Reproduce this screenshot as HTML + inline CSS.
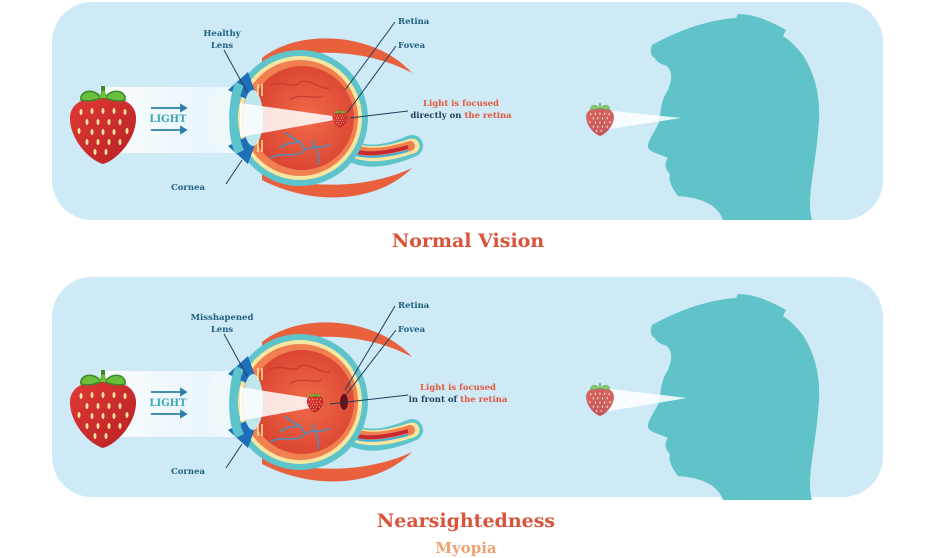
<!DOCTYPE html>
<html><head><meta charset="utf-8"><style>
html,body{margin:0;padding:0;background:#fff;}
svg{display:block;}
text{font-family:"DejaVu Serif","Liberation Serif",serif;font-weight:bold;}
</style></head><body>
<svg width="936" height="558" viewBox="0 0 936 558" xmlns="http://www.w3.org/2000/svg">
<defs>
<radialGradient id="inner" cx="0.55" cy="0.5" r="0.6">
<stop offset="0" stop-color="#f06a48"/><stop offset="1" stop-color="#d8402f"/></radialGradient>
<linearGradient id="berry" x1="0" y1="0" x2="1" y2="1">
<stop offset="0" stop-color="#e03a36"/><stop offset="1" stop-color="#b82024"/></linearGradient>
<linearGradient id="beam" x1="0" y1="0" x2="1" y2="0">
<stop offset="0" stop-color="#fff" stop-opacity="0.9"/><stop offset="1" stop-color="#fff" stop-opacity="0.5"/></linearGradient>
<g id="berryShape">
<path d="M0,-28 C20,-30 34,-22 33,-6 C32,14 14,34 0,38 C-14,34 -32,14 -33,-6 C-34,-22 -20,-30 0,-28 Z" fill="url(#berry)"/>
<g fill="#f8e6a0">
<ellipse cx="-22" cy="-14" rx="1.5" ry="3"/><ellipse cx="-11" cy="-15" rx="1.5" ry="3"/><ellipse cx="0" cy="-15" rx="1.5" ry="3"/><ellipse cx="11" cy="-15" rx="1.5" ry="3"/><ellipse cx="22" cy="-14" rx="1.5" ry="3"/>
<ellipse cx="-16" cy="-4" rx="1.5" ry="3"/><ellipse cx="-5" cy="-4" rx="1.5" ry="3"/><ellipse cx="6" cy="-4" rx="1.5" ry="3"/><ellipse cx="17" cy="-4" rx="1.5" ry="3"/>
<ellipse cx="-24" cy="5" rx="1.5" ry="3"/><ellipse cx="-11" cy="6" rx="1.5" ry="3"/><ellipse cx="0" cy="6" rx="1.5" ry="3"/><ellipse cx="11" cy="6" rx="1.5" ry="3"/><ellipse cx="24" cy="5" rx="1.5" ry="3"/>
<ellipse cx="-16" cy="16" rx="1.5" ry="3"/><ellipse cx="-5" cy="16" rx="1.5" ry="3"/><ellipse cx="6" cy="16" rx="1.5" ry="3"/><ellipse cx="17" cy="16" rx="1.5" ry="3"/>
<ellipse cx="-8" cy="26" rx="1.5" ry="3"/><ellipse cx="3" cy="26" rx="1.5" ry="3"/>
</g>
<path d="M-2,-28 L-2,-40 L2,-40 L2,-28 Z" fill="#3a8a2a"/>
<path d="M-2,-28 C-10,-40 -24,-34 -22,-26 C-14,-24 -8,-26 -2,-28 Z" fill="#6cbf3c" stroke="#3a8a2a" stroke-width="1.5"/>
<path d="M2,-28 C10,-40 24,-34 22,-26 C14,-24 8,-26 2,-28 Z" fill="#6cbf3c" stroke="#3a8a2a" stroke-width="1.5"/>
<path d="M-3,-28 C-4,-38 4,-38 3,-28 Z" fill="#6cbf3c"/>
</g>
<g id="eye">
<!-- muscles -->
<path d="M262,58 C300,28 375,32 412,73 C370,50 310,46 262,64 Z" fill="#e8603c"/>
<path d="M262,180 C310,205 375,205 412,168 C370,188 310,190 262,174 Z" fill="#e8603c"/>
<!-- optic nerve -->
<path d="M340,140 Q360,168 412,146" fill="none" stroke="#5ec4cc" stroke-width="22" stroke-linecap="round"/>
<path d="M340,140 Q360,164 412,146" fill="none" stroke="#f8e6a0" stroke-width="15" stroke-linecap="round"/>
<path d="M340,140 Q360,162 410,146" fill="none" stroke="#f08050" stroke-width="10" stroke-linecap="round"/>
<path d="M345,146 Q362,160 408,147" fill="none" stroke="#c82830" stroke-width="4"/>
<path d="M345,150 Q362,163 408,151" fill="none" stroke="#3ab0e0" stroke-width="2"/>
<!-- sclera -->
<circle cx="300" cy="118" r="68" fill="#5ec4cc"/>
<circle cx="300" cy="118" r="62" fill="#f8e6a0"/>
<circle cx="300" cy="118" r="58" fill="#f08050"/>
<circle cx="302" cy="118" r="52" fill="url(#inner)"/>
<!-- vessels -->
<g fill="none" stroke="#c83a30" stroke-width="1.2">
<path d="M270,85 C285,80 295,90 300,82 C310,78 320,90 330,88"/>
<path d="M290,100 C300,92 312,100 322,96"/>
</g>
<g fill="none" stroke="#4a90c0" stroke-width="1.5">
<path d="M270,158 C285,150 295,160 305,150 C315,144 320,150 330,144"/>
<path d="M285,132 C292,140 300,138 305,150"/>
<path d="M312,140 C316,150 320,155 318,165"/>
<path d="M280,148 C290,140 298,145 300,140"/>
</g>
<!-- front -->
<path d="M228,90 L248,72 L258,100 L248,100 Z" fill="#1f6fb8"/>
<path d="M228,146 L248,164 L258,136 L248,136 Z" fill="#1f6fb8"/>
<path d="M236,82 C228,95 226,140 236,154 L244,150 C236,135 236,100 244,86 Z" fill="#5ec4cc"/>
<ellipse cx="253" cy="118" rx="10" ry="28" fill="#bfe7ee"/>
<g stroke="#f8e6a0" stroke-width="1.5"><line x1="258" y1="84" x2="258" y2="96"/><line x1="262" y1="84" x2="262" y2="96"/><line x1="258" y1="140" x2="258" y2="152"/><line x1="262" y1="140" x2="262" y2="152"/></g>
</g>
<g id="beamBase">
<rect x="100" y="87" width="130" height="66" fill="url(#beam)"/>
<path d="M222,87 C200,95 200,142 222,153 L240,153 L240,87 Z" fill="#eef8fb" opacity="0.9"/>
<path d="M238,103 L250,103 L250,136 L238,136 Z" fill="#ddd" opacity="0.6"/>
<g stroke="#2b7fa8" stroke-width="1.8" fill="#2b7fa8">
<line x1="151" y1="108" x2="184" y2="108"/><path d="M186,108 L181,105 L181,111 Z"/>
<line x1="151" y1="130" x2="184" y2="130"/><path d="M186,130 L181,127 L181,133 Z"/>
</g>
</g>
<g id="head">
<path d="M652,45 C668,36 702,20 736,18 L738,14 C755,14 772,22 786,30 L783,36 C812,55 823,92 818,132 C815,170 806,200 812,220 L723,220 C718,206 704,198 678,196 C672,188 668,180 670,174 C665,170 664,162 668,158 C660,154 647,152 648,146 C648,140 655,132 659,122 C661,110 661,100 668,90 C672,80 673,72 667,66 C660,64 655,60 655,58 C650,56 650,50 652,45 Z" fill="#5fc3c9"/>
</g>
</defs>

<!-- panels -->
<rect x="52" y="2" width="831" height="218" rx="40" fill="#cdeaf6"/>
<rect x="52" y="277" width="831" height="220" rx="40" fill="#cdeaf6"/>

<!-- TOP -->
<use href="#beamBase"/>
<text x="168" y="122" font-size="10" fill="#3aa8b8" text-anchor="middle">LIGHT</text>
<use href="#eye"/>
<path d="M240,103 L340,117 L340,119 L240,137 Z" fill="#fff" opacity="0.85"/>
<g transform="translate(340,119) scale(0.23)"><use href="#berryShape"/></g>
<g transform="translate(103,126)"><use href="#berryShape"/></g>
<g stroke="#1d3f5a" stroke-width="1"><line x1="224" y1="50" x2="247" y2="92"/><line x1="395" y1="22" x2="345" y2="90"/><line x1="396" y1="46" x2="347" y2="113"/><line x1="350" y1="118" x2="408" y2="111"/><line x1="226" y1="184" x2="242" y2="160"/></g>
<g font-size="8.5" fill="#1f5f80">
<text x="222" y="36" text-anchor="middle">Healthy</text><text x="222" y="48" text-anchor="middle">Lens</text>
<text x="398" y="24">Retina</text><text x="398" y="48">Fovea</text>
<text x="205" y="190" text-anchor="end">Cornea</text>
<text x="461" y="106" text-anchor="middle" fill="#e8563c">Light is focused</text>
<text x="461" y="118" text-anchor="middle" fill="#1d3f5a">directly on <tspan fill="#e8563c">the retina</tspan></text>
</g>
<use href="#head"/>
<path d="M604,110 L681,118 L604,130 Z" fill="#fff" opacity="0.85"/>
<g transform="translate(600,120) scale(0.42)" opacity="0.75"><use href="#berryShape"/></g>
<text x="468" y="247" font-size="19" fill="#d9543a" text-anchor="middle">Normal Vision</text>

<!-- BOTTOM -->
<g transform="translate(0,284)">
<use href="#beamBase"/>
<text x="168" y="122" font-size="10" fill="#3aa8b8" text-anchor="middle">LIGHT</text>
<use href="#eye"/>
<path d="M240,103 L316,115 L316,123 L240,137 Z" fill="#fff" opacity="0.85"/>
<g transform="translate(315,119) scale(0.25)"><use href="#berryShape"/></g>
<ellipse cx="344" cy="118" rx="4" ry="8" fill="#6a1018"/>
<g transform="translate(103,126)"><use href="#berryShape"/></g>
<g stroke="#1d3f5a" stroke-width="1"><line x1="224" y1="50" x2="247" y2="92"/><line x1="395" y1="22" x2="345" y2="106"/><line x1="396" y1="46" x2="345" y2="112"/><line x1="330" y1="120" x2="408" y2="111"/><line x1="226" y1="184" x2="242" y2="160"/></g>
<g font-size="8.5" fill="#1f5f80">
<text x="222" y="36" text-anchor="middle">Misshapened</text><text x="222" y="48" text-anchor="middle">Lens</text>
<text x="398" y="24">Retina</text><text x="398" y="48">Fovea</text>
<text x="205" y="190" text-anchor="end">Cornea</text>
<text x="458" y="106" text-anchor="middle" fill="#e8563c">Light is focused</text>
<text x="458" y="118" text-anchor="middle" fill="#1d3f5a">in front of <tspan fill="#e8563c">the retina</tspan></text>
</g>
</g>
<g transform="translate(0,280)">
<use href="#head"/>
<path d="M604,108 L687,118 L604,132 Z" fill="#fff" opacity="0.85"/>
<g transform="translate(600,120) scale(0.42)" opacity="0.75"><use href="#berryShape"/></g>
</g>
<text x="466" y="527" font-size="19" fill="#d9543a" text-anchor="middle">Nearsightedness</text>
<text x="466" y="553" font-size="15" fill="#f0a070" text-anchor="middle">Myopia</text>
</svg>
</body></html>
